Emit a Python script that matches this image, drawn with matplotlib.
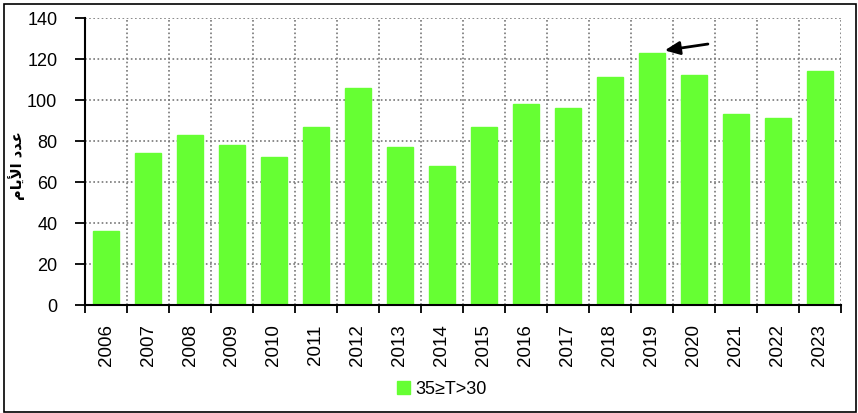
import matplotlib.pyplot as plt
import numpy as np
from matplotlib.patches import Rectangle

# data
years = ["2006", "2007", "2008", "2009", "2010", "2011", "2012", "2013", "2014",
         "2015", "2016", "2017", "2018", "2019", "2020", "2021", "2022", "2023"]
days = [36, 74, 83, 78, 72, 87, 106, 77, 68, 87, 98, 96, 111, 123, 112, 93, 91, 114]
series_label = "35\u2265T>30"
yticks = [0, 20, 40, 60, 80, 100, 120, 140]

# Arabic y label "عدد الأيام", pre-shaped (presentation forms, visual order)
ylabel = "\uFEE1\uFE8E\uFEF3\uFEF7\uFE8D \uFEA9\uFEAA\uFECB"

plt.rcParams['font.family'] = ['Liberation Sans', 'DejaVu Sans']

fig = plt.figure(figsize=(8.58, 4.13), dpi=100)
ax = fig.add_axes([0.0991, 0.2615, 0.8809, 0.6949])

x = np.arange(len(years))
ax.bar(x, days, width=0.62, color="#66ff33", edgecolor="#66ff33",
       label=series_label, zorder=3)

ax.set_xlim(-0.5, len(years) - 0.5)
ax.set_ylim(0, 140)
ax.set_yticks(yticks)
ax.set_xticks(x)
ax.set_xticklabels(years, rotation=90, fontsize=13.5)
ax.set_xticks(np.arange(len(years) + 1) - 0.5, minor=True)
ax.tick_params(axis="x", which="major", length=0, pad=14)
ax.tick_params(axis="x", which="minor", length=6, width=1.3, direction="out")
ax.tick_params(axis="y", length=7, width=1.3, labelsize=13, pad=13)

ax.grid(axis="y", linestyle=(0, (1, 1.5)), color="#777777", linewidth=1.2, zorder=0)
ax.grid(axis="x", which="minor", linestyle=(0, (1, 1.5)), color="#777777",
        linewidth=1.2, zorder=0)

for s in ["top", "right"]:
    ax.spines[s].set_visible(False)
for s in ["left", "bottom"]:
    ax.spines[s].set_linewidth(1.5)
    ax.spines[s].set_zorder(4)

ax.set_ylabel(ylabel, family=['DejaVu Sans'], fontweight="bold", fontsize=10.5)
ax.yaxis.set_label_coords(-0.08, 0.484)

# arrow pointing at 2019
ax.annotate("", xy=(13.24, 124), xytext=(14.4, 127.5),
            arrowprops=dict(arrowstyle="-|>,head_length=0.9,head_width=0.4",
                            color="black", lw=2), zorder=5)

leg = ax.legend(loc="center", bbox_to_anchor=(0.472, -0.293), frameon=False,
                fontsize=13, handlelength=0.7, handleheight=0.7, handletextpad=0.3)

fig.patches.append(Rectangle((0.005, 0.003), 0.993, 0.987, transform=fig.transFigure,
                             fill=False, edgecolor="black", linewidth=1.2))

fig.savefig("out.png", dpi=100)
